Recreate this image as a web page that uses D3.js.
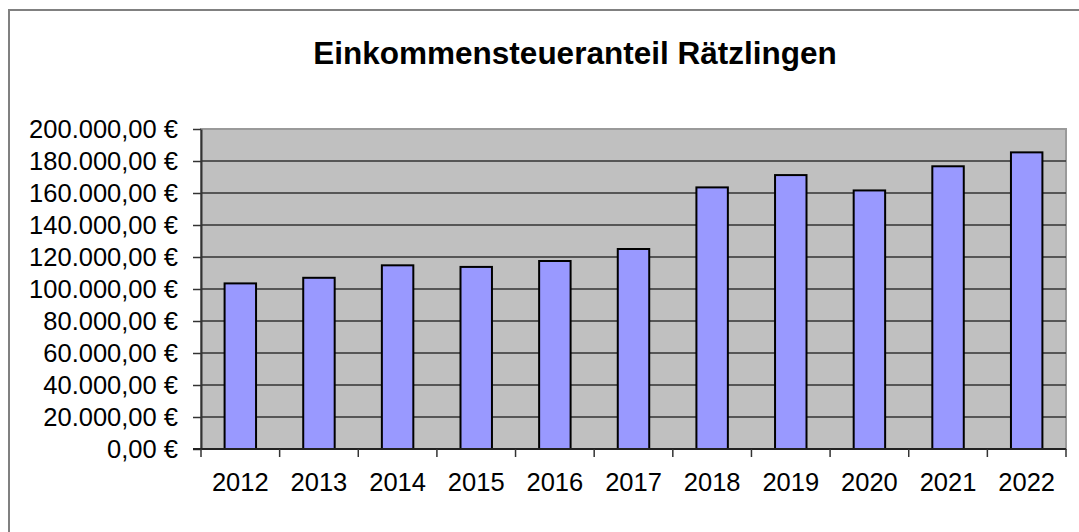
<!DOCTYPE html>
<meta charset="utf-8">
<style>
  body { margin: 0; background: #fff; }
  text { font-family: "Liberation Sans", Arial, sans-serif; }
</style>
<body>
<script src="https://d3js.org/d3.v7.min.js"></script>
<script>

var width = 1079,
    height = 532;

// data
var years = ["2012", "2013", "2014", "2015", "2016", "2017", "2018", "2019", "2020", "2021", "2022"];
var values = [103500, 107000, 114800, 113800, 117500, 125000, 163500, 171200, 161600, 176700, 185400];
var yTicks = [0, 20000, 40000, 60000, 80000, 100000, 120000, 140000, 160000, 180000, 200000];
var title = "Einkommensteueranteil Rätzlingen";

var de = d3.formatLocale({decimal: ",", thousands: ".", grouping: [3], currency: ["", " €"]});
var fmt = de.format("$,.2f");

var margin = {top: 129, right: 13, bottom: 83, left: 201};

var svg = d3.select("body").append("svg")
    .attr("width", width)
    .attr("height", height);

// outer chart frame (runs off the right and bottom)
svg.append("rect")
    .attr("x", 9).attr("y", 10)
    .attr("width", width + 20).attr("height", height + 20)
    .attr("fill", "#fff")
    .attr("stroke", "#808080")
    .attr("stroke-width", 2);

svg.append("text")
    .attr("x", 575).attr("y", 64)
    .attr("text-anchor", "middle")
    .attr("font-size", 31.5)
    .attr("font-weight", "bold")
    .attr("fill", "#000")
    .text(title);

var x = d3.scaleBand()
    .domain(years)
    .range([margin.left, width - margin.right])
    .paddingInner(0.6)
    .paddingOuter(0.3);

var y = d3.scaleLinear()
    .domain([0, 200000])
    .range([height - margin.bottom, margin.top]);

// plot area
svg.append("rect")
    .attr("x", x.range()[0]).attr("y", y(200000))
    .attr("width", x.range()[1] - x.range()[0])
    .attr("height", y(0) - y(200000))
    .attr("fill", "#c0c0c0")
    .attr("stroke", "#9a9a9a")
    .attr("stroke-width", 2);

// gridlines
svg.append("g")
  .selectAll("line")
  .data(yTicks.filter(function(d) { return d > 0 && d < 200000; }))
  .join("line")
    .attr("x1", x.range()[0]).attr("x2", x.range()[1])
    .attr("y1", function(d) { return y(d); })
    .attr("y2", function(d) { return y(d); })
    .attr("stroke", "#333")
    .attr("stroke-width", 1.5);

// bars
svg.append("g")
  .selectAll("rect")
  .data(values)
  .join("rect")
    .attr("x", function(d, i) { return x(years[i]); })
    .attr("y", function(d) { return y(d); })
    .attr("width", x.bandwidth())
    .attr("height", function(d) { return y(0) - y(d); })
    .attr("fill", "#9999ff")
    .attr("stroke", "#000")
    .attr("stroke-width", 2);

// y axis
var yAxis = svg.append("g")
    .attr("transform", "translate(" + x.range()[0] + ",0)")
    .call(d3.axisLeft(y).tickValues(yTicks).tickFormat(fmt).tickSize(8).tickSizeOuter(0).tickPadding(15));
yAxis.select(".domain").attr("stroke", "#333").attr("stroke-width", 2);
yAxis.selectAll(".tick line").attr("stroke", "#333").attr("stroke-width", 1.5);
yAxis.selectAll("text")
    .attr("font-family", "Liberation Sans, Arial, sans-serif")
    .attr("font-size", 25.5)
    .attr("fill", "#000");

// x axis with ticks on category boundaries
var bounds = d3.range(years.length + 1).map(function(i) { return x.range()[0] + i * (x.range()[1] - x.range()[0]) / years.length; });
var xg = svg.append("g");
xg.append("line")
    .attr("x1", x.range()[0] - 8).attr("x2", x.range()[1])
    .attr("y1", y(0)).attr("y2", y(0))
    .attr("stroke", "#222").attr("stroke-width", 2);
xg.selectAll(".xt")
  .data(bounds)
  .join("line")
    .attr("class", "xt")
    .attr("x1", function(d) { return d; }).attr("x2", function(d) { return d; })
    .attr("y1", y(0)).attr("y2", y(0) + 8)
    .attr("stroke", "#333").attr("stroke-width", 1.5);
xg.selectAll("text")
  .data(years)
  .join("text")
    .attr("x", function(d) { return x(d) + x.bandwidth() / 2; })
    .attr("y", 491)
    .attr("text-anchor", "middle")
    .attr("font-size", 25.5)
    .attr("fill", "#000")
    .text(function(d) { return d; });

</script>
